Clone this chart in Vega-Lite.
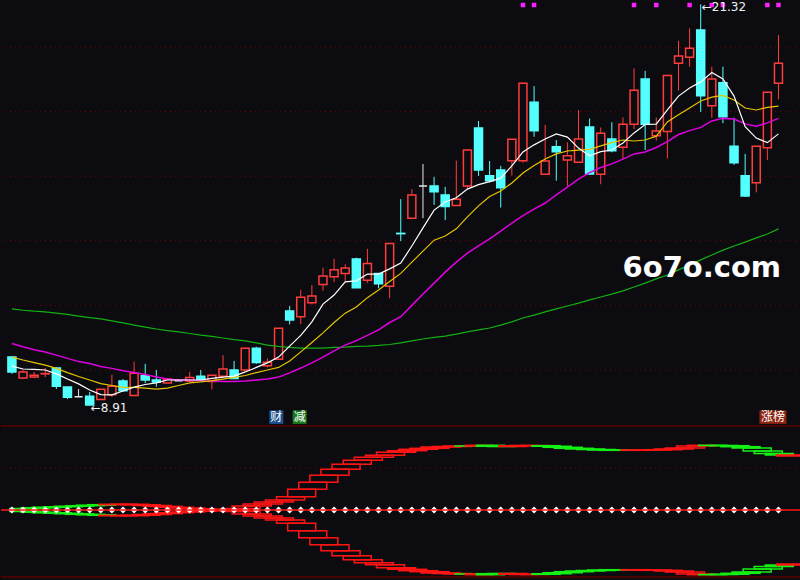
{
"$schema": "https://vega.github.io/schema/vega-lite/v6.json",
"background": "#0c0c10",
"padding": 0,
"spacing": 0,
"bounds": "flush",
"config": {"view": {"stroke": null}},
"resolve": {"scale": {"x": "independent", "y": "independent", "color": "independent", "fill": "independent", "stroke": "independent"}},
"datasets": {
"k": [
{"i":0,"o":10.40,"c":9.94,"h":10.43,"l":9.88,"t":"c","m5":10.12,"m10":10.40,"m20":10.82,"m60":11.89},
{"i":1,"o":9.75,"c":9.94,"h":10.00,"l":9.72,"t":"r","m5":10.03,"m10":10.31,"m20":10.72,"m60":11.85},
{"i":2,"o":9.78,"c":9.84,"h":9.94,"l":9.75,"t":"r","m5":10.02,"m10":10.23,"m20":10.63,"m60":11.82},
{"i":3,"o":9.88,"c":9.89,"h":10.06,"l":9.78,"t":"r","m5":10.00,"m10":10.15,"m20":10.56,"m60":11.80},
{"i":4,"o":10.06,"c":9.50,"h":10.08,"l":9.41,"t":"c","m5":9.88,"m10":10.05,"m20":10.46,"m60":11.76},
{"i":5,"o":9.47,"c":9.16,"h":9.47,"l":9.10,"t":"c","m5":9.72,"m10":9.92,"m20":10.36,"m60":11.72},
{"i":6,"o":9.17,"c":9.17,"h":9.41,"l":9.16,"t":"w","m5":9.57,"m10":9.80,"m20":10.26,"m60":11.67},
{"i":7,"o":9.19,"c":8.92,"h":9.32,"l":8.91,"t":"c","m5":9.38,"m10":9.69,"m20":10.20,"m60":11.62},
{"i":8,"o":9.09,"c":9.40,"h":9.41,"l":9.09,"t":"r","m5":9.24,"m10":9.58,"m20":10.11,"m60":11.58},
{"i":9,"o":9.23,"c":9.50,"h":9.85,"l":9.17,"t":"r","m5":9.23,"m10":9.52,"m20":10.05,"m60":11.52},
{"i":10,"o":9.66,"c":9.36,"h":9.72,"l":9.35,"t":"c","m5":9.35,"m10":9.46,"m20":9.98,"m60":11.46},
{"i":11,"o":9.21,"c":9.90,"h":10.26,"l":9.20,"t":"r","m5":9.47,"m10":9.46,"m20":9.92,"m60":11.39},
{"i":12,"o":9.82,"c":9.69,"h":10.19,"l":9.59,"t":"c","m5":9.55,"m10":9.44,"m20":9.86,"m60":11.33},
{"i":13,"o":9.69,"c":9.63,"h":10.00,"l":9.48,"t":"c","m5":9.60,"m10":9.41,"m20":9.78,"m60":11.27},
{"i":14,"o":9.60,"c":9.71,"h":9.75,"l":9.60,"t":"r","m5":9.69,"m10":9.44,"m20":9.72,"m60":11.22},
{"i":15,"o":9.67,"c":9.67,"h":9.72,"l":9.66,"t":"w","m5":9.69,"m10":9.52,"m20":9.69,"m60":11.18},
{"i":16,"o":9.66,"c":9.77,"h":9.94,"l":9.63,"t":"r","m5":9.69,"m10":9.60,"m20":9.69,"m60":11.13},
{"i":17,"o":9.81,"c":9.69,"h":10.00,"l":9.66,"t":"c","m5":9.69,"m10":9.63,"m20":9.67,"m60":11.08},
{"i":18,"o":9.64,"c":9.84,"h":9.85,"l":9.40,"t":"r","m5":9.74,"m10":9.67,"m20":9.66,"m60":11.04},
{"i":19,"o":9.81,"c":10.03,"h":10.46,"l":9.81,"t":"r","m5":9.78,"m10":9.72,"m20":9.64,"m60":10.99},
{"i":20,"o":10.00,"c":9.74,"h":10.28,"l":9.74,"t":"c","m5":9.81,"m10":9.77,"m20":9.64,"m60":10.94},
{"i":21,"o":10.00,"c":10.67,"h":10.68,"l":9.95,"t":"r","m5":9.94,"m10":9.83,"m20":9.66,"m60":10.90},
{"i":22,"o":10.67,"c":10.23,"h":10.72,"l":10.19,"t":"c","m5":10.08,"m10":9.92,"m20":9.69,"m60":10.84},
{"i":23,"o":10.13,"c":10.24,"h":10.36,"l":10.08,"t":"r","m5":10.22,"m10":10.00,"m20":9.72,"m60":10.77},
{"i":24,"o":10.33,"c":11.29,"h":11.30,"l":10.33,"t":"r","m5":10.40,"m10":10.08,"m20":9.78,"m60":10.73},
{"i":25,"o":11.83,"c":11.55,"h":11.98,"l":11.41,"t":"c","m5":10.74,"m10":10.28,"m20":9.91,"m60":10.70},
{"i":26,"o":11.65,"c":12.25,"h":12.48,"l":11.42,"t":"r","m5":11.07,"m10":10.56,"m20":10.06,"m60":10.68},
{"i":27,"o":12.08,"c":12.29,"h":12.63,"l":12.03,"t":"r","m5":11.49,"m10":10.85,"m20":10.22,"m60":10.68},
{"i":28,"o":12.65,"c":12.91,"h":13.17,"l":12.45,"t":"r","m5":12.04,"m10":11.15,"m20":10.40,"m60":10.68},
{"i":29,"o":12.89,"c":13.10,"h":13.44,"l":12.72,"t":"r","m5":12.32,"m10":11.47,"m20":10.59,"m60":10.70},
{"i":30,"o":12.99,"c":13.16,"h":13.27,"l":12.75,"t":"r","m5":12.73,"m10":11.76,"m20":10.77,"m60":10.71},
{"i":31,"o":13.44,"c":12.55,"h":13.48,"l":12.55,"t":"c","m5":12.76,"m10":11.95,"m20":10.91,"m60":10.73},
{"i":32,"o":12.78,"c":13.30,"h":13.75,"l":12.70,"t":"r","m5":12.97,"m10":12.24,"m20":11.07,"m60":10.74},
{"i":33,"o":12.99,"c":12.67,"h":13.00,"l":12.53,"t":"c","m5":12.97,"m10":12.48,"m20":11.24,"m60":10.76},
{"i":34,"o":12.59,"c":13.92,"h":13.93,"l":12.22,"t":"r","m5":13.13,"m10":12.74,"m20":11.47,"m60":10.79},
{"i":35,"o":14.23,"c":14.22,"h":15.29,"l":13.99,"t":"c","m5":13.31,"m10":12.99,"m20":11.65,"m60":10.84},
{"i":36,"o":14.70,"c":15.42,"h":15.60,"l":14.67,"t":"r","m5":13.84,"m10":13.34,"m20":12.00,"m60":10.90},
{"i":37,"o":15.70,"c":15.70,"h":16.38,"l":14.70,"t":"w","m5":14.40,"m10":13.68,"m20":12.35,"m60":10.96},
{"i":38,"o":15.70,"c":15.52,"h":15.98,"l":15.11,"t":"c","m5":14.95,"m10":14.02,"m20":12.69,"m60":11.01},
{"i":39,"o":15.42,"c":15.06,"h":15.67,"l":14.64,"t":"c","m5":15.20,"m10":14.15,"m20":13.03,"m60":11.05},
{"i":40,"o":15.09,"c":15.29,"h":16.48,"l":15.09,"t":"r","m5":15.33,"m10":14.37,"m20":13.34,"m60":11.11},
{"i":41,"o":15.70,"c":16.81,"h":16.81,"l":15.60,"t":"r","m5":15.60,"m10":14.74,"m20":13.62,"m60":11.18},
{"i":42,"o":17.49,"c":16.19,"h":17.71,"l":16.01,"t":"c","m5":15.74,"m10":15.08,"m20":13.84,"m60":11.24},
{"i":43,"o":16.01,"c":15.86,"h":16.47,"l":15.80,"t":"c","m5":15.83,"m10":15.37,"m20":14.06,"m60":11.30},
{"i":44,"o":16.19,"c":15.64,"h":16.32,"l":15.03,"t":"c","m5":15.94,"m10":15.54,"m20":14.30,"m60":11.39},
{"i":45,"o":16.48,"c":17.14,"h":17.15,"l":16.02,"t":"r","m5":16.32,"m10":15.79,"m20":14.55,"m60":11.49},
{"i":46,"o":16.48,"c":18.88,"h":18.89,"l":16.42,"t":"r","m5":16.75,"m10":16.10,"m20":14.78,"m60":11.61},
{"i":47,"o":18.29,"c":17.41,"h":18.79,"l":17.22,"t":"c","m5":16.97,"m10":16.33,"m20":14.98,"m60":11.70},
{"i":48,"o":16.06,"c":16.47,"h":17.59,"l":16.06,"t":"r","m5":17.15,"m10":16.53,"m20":15.17,"m60":11.80},
{"i":49,"o":16.91,"c":16.76,"h":17.12,"l":15.86,"t":"c","m5":17.31,"m10":16.69,"m20":15.42,"m60":11.89},
{"i":50,"o":16.50,"c":16.63,"h":17.05,"l":15.70,"t":"r","m5":17.21,"m10":16.78,"m20":15.66,"m60":11.98},
{"i":51,"o":16.43,"c":17.15,"h":18.05,"l":16.41,"t":"r","m5":16.87,"m10":16.81,"m20":15.91,"m60":12.07},
{"i":52,"o":17.52,"c":16.07,"h":17.79,"l":16.04,"t":"c","m5":16.63,"m10":16.83,"m20":16.11,"m60":12.17},
{"i":53,"o":16.06,"c":17.33,"h":17.51,"l":15.75,"t":"r","m5":16.76,"m10":16.94,"m20":16.27,"m60":12.26},
{"i":54,"o":17.15,"c":16.79,"h":17.67,"l":16.74,"t":"c","m5":16.81,"m10":17.04,"m20":16.38,"m60":12.35},
{"i":55,"o":16.90,"c":17.61,"h":17.82,"l":16.52,"t":"r","m5":17.03,"m10":17.12,"m20":16.53,"m60":12.45},
{"i":56,"o":17.61,"c":18.66,"h":19.34,"l":17.46,"t":"r","m5":17.34,"m10":17.09,"m20":16.69,"m60":12.57},
{"i":57,"o":19.01,"c":17.61,"h":19.26,"l":16.81,"t":"c","m5":17.60,"m10":17.12,"m20":16.75,"m60":12.69},
{"i":58,"o":17.25,"c":17.40,"h":17.82,"l":17.10,"t":"r","m5":17.61,"m10":17.24,"m20":16.89,"m60":12.82},
{"i":59,"o":17.38,"c":19.12,"h":19.13,"l":16.55,"t":"r","m5":18.05,"m10":17.68,"m20":17.07,"m60":12.94},
{"i":60,"o":19.50,"c":19.72,"h":20.19,"l":18.65,"t":"r","m5":18.48,"m10":17.90,"m20":17.29,"m60":13.10},
{"i":61,"o":19.68,"c":19.96,"h":20.58,"l":19.39,"t":"r","m5":18.73,"m10":18.11,"m20":17.41,"m60":13.25},
{"i":62,"o":20.53,"c":18.49,"h":21.32,"l":17.99,"t":"c","m5":18.92,"m10":18.33,"m20":17.51,"m60":13.41},
{"i":63,"o":18.18,"c":19.01,"h":19.39,"l":17.81,"t":"r","m5":19.21,"m10":18.45,"m20":17.71,"m60":13.56},
{"i":64,"o":18.89,"c":17.84,"h":19.39,"l":17.64,"t":"c","m5":19.01,"m10":18.50,"m20":17.79,"m60":13.71},
{"i":65,"o":16.93,"c":16.42,"h":17.81,"l":16.35,"t":"c","m5":18.48,"m10":18.36,"m20":17.77,"m60":13.84},
{"i":66,"o":16.01,"c":15.39,"h":16.69,"l":15.36,"t":"c","m5":17.53,"m10":18.11,"m20":17.62,"m60":13.96},
{"i":67,"o":15.80,"c":16.93,"h":16.93,"l":15.50,"t":"r","m5":17.18,"m10":18.05,"m20":17.55,"m60":14.09},
{"i":68,"o":16.88,"c":18.60,"h":18.60,"l":16.50,"t":"r","m5":17.04,"m10":18.13,"m20":17.65,"m60":14.21},
{"i":69,"o":18.88,"c":19.50,"h":20.37,"l":18.38,"t":"r","m5":17.31,"m10":18.17,"m20":17.79,"m60":14.37}
],
"ind": [
{"i":0,"v":1.5,"vp":1.0,"s":"g"},{"i":1,"v":2.2,"vp":1.5,"s":"g"},{"i":2,"v":2.8,"vp":2.2,"s":"g"},{"i":3,"v":3.3,"vp":2.8,"s":"g"},
{"i":4,"v":3.8,"vp":3.3,"s":"g"},{"i":5,"v":4.3,"vp":3.8,"s":"g"},{"i":6,"v":4.8,"vp":4.3,"s":"g"},{"i":7,"v":5.3,"vp":4.8,"s":"g"},
{"i":8,"v":5.7,"vp":5.3,"s":"r"},{"i":9,"v":5.7,"vp":5.7,"s":"r"},{"i":10,"v":5.2,"vp":5.7,"s":"r"},{"i":11,"v":4.5,"vp":5.2,"s":"r"},
{"i":12,"v":3.6,"vp":4.5,"s":"r"},{"i":13,"v":2.7,"vp":3.6,"s":"r"},{"i":14,"v":2.0,"vp":2.7,"s":"r"},{"i":15,"v":1.3,"vp":2.0,"s":"r"},
{"i":16,"v":0.8,"vp":1.3,"s":"r"},{"i":17,"v":0.5,"vp":0.8,"s":"r"},{"i":18,"v":0.5,"vp":0.5,"s":"r"},{"i":19,"v":1.5,"vp":0.5,"s":"r"},
{"i":20,"v":4,"vp":1.5,"s":"r"},{"i":21,"v":6,"vp":4,"s":"r"},{"i":22,"v":8,"vp":6,"s":"r"},{"i":23,"v":10,"vp":8,"s":"r"},
{"i":24,"v":13.3,"vp":10,"s":"r"},{"i":25,"v":20.7,"vp":13.3,"s":"r"},{"i":26,"v":27.7,"vp":20.7,"s":"r"},{"i":27,"v":34.7,"vp":27.7,"s":"r"},
{"i":28,"v":40.7,"vp":34.7,"s":"r"},{"i":29,"v":45.7,"vp":40.7,"s":"r"},{"i":30,"v":49.7,"vp":45.7,"s":"r"},{"i":31,"v":52.7,"vp":49.7,"s":"r"},
{"i":32,"v":54.7,"vp":52.7,"s":"r"},{"i":33,"v":57.7,"vp":54.7,"s":"r"},{"i":34,"v":59.3,"vp":57.7,"s":"r"},{"i":35,"v":60.7,"vp":59.3,"s":"r"},
{"i":36,"v":61.7,"vp":60.7,"s":"r"},{"i":37,"v":63,"vp":61.7,"s":"r"},{"i":38,"v":63.5,"vp":63,"s":"r"},{"i":39,"v":64,"vp":63.5,"s":"r"},
{"i":40,"v":64,"vp":64,"s":"g"},{"i":41,"v":64.7,"vp":64,"s":"r"},{"i":42,"v":63.7,"vp":64.7,"s":"g"},{"i":43,"v":63.5,"vp":63.7,"s":"g"},
{"i":44,"v":64.3,"vp":63.5,"s":"r"},{"i":45,"v":64.5,"vp":64.3,"s":"r"},{"i":46,"v":64.3,"vp":64.5,"s":"r"},{"i":47,"v":63.7,"vp":64.3,"s":"g"},
{"i":48,"v":62.7,"vp":63.7,"s":"g"},{"i":49,"v":61.7,"vp":62.7,"s":"g"},{"i":50,"v":61,"vp":61.7,"s":"g"},{"i":51,"v":60.5,"vp":61,"s":"g"},
{"i":52,"v":60,"vp":60.5,"s":"g"},{"i":53,"v":59.7,"vp":60,"s":"g"},{"i":54,"v":59.7,"vp":59.7,"s":"g"},{"i":55,"v":60,"vp":59.7,"s":"r"},
{"i":56,"v":60,"vp":60,"s":"r"},{"i":57,"v":60.3,"vp":60,"s":"r"},{"i":58,"v":61,"vp":60.3,"s":"r"},{"i":59,"v":62,"vp":61,"s":"r"},
{"i":60,"v":64,"vp":62,"s":"r"},{"i":61,"v":64.7,"vp":64,"s":"r"},{"i":62,"v":64.5,"vp":64.7,"s":"g"},{"i":63,"v":64.3,"vp":64.5,"s":"g"},
{"i":64,"v":63.3,"vp":64.3,"s":"g"},{"i":65,"v":62,"vp":63.3,"s":"g"},{"i":66,"v":59,"vp":62,"s":"g"},{"i":67,"v":56.5,"vp":59,"s":"g"},
{"i":68,"v":55,"vp":56.5,"s":"g"},{"i":69,"v":54,"vp":55,"s":"r"}
],
"grid": [{"p":10},{"p":12},{"p":14},{"p":16},{"p":18},{"p":20}],
"sig": [{"i":46},{"i":47},{"i":56},{"i":58},{"i":61},{"i":63},{"i":64},{"i":68},{"i":69}],
"tags": [{"i":23.8,"lab":"财"},{"i":25.9,"lab":"减"},{"i":68.5,"lab":"涨榜"}]
},
"vconcat": [
{
"width": 800, "height": 425,
"layer": [
{"data": {"name": "grid"}, "mark": {"type": "rule", "color": "#780000", "strokeDash": [1, 4], "strokeWidth": 1},
 "encoding": {"y": {"field": "p", "type": "quantitative", "scale": {"domain": [8.297, 21.455], "nice": false, "zero": false}, "axis": null}}},
{"data": {"name": "k"}, "mark": {"type": "rule", "strokeWidth": 1},
 "encoding": {
  "x": {"field": "i", "type": "quantitative", "scale": {"domain": [-0.533, 70.578], "nice": false, "zero": false}, "axis": null},
  "y": {"field": "l", "type": "quantitative", "scale": {"domain": [8.297, 21.455], "nice": false, "zero": false}, "axis": null},
  "y2": {"field": "h"},
  "color": {"field": "t", "type": "nominal", "scale": {"domain": ["r", "c", "w"], "range": ["#ff3c3c", "#54ffff", "#e8e8e8"]}, "legend": null}}},
{"data": {"name": "k"}, "mark": {"type": "bar", "size": 8, "strokeWidth": 1.5, "opacity": 1},
 "encoding": {
  "x": {"field": "i", "type": "quantitative", "scale": {"domain": [-0.533, 70.578], "nice": false, "zero": false}, "axis": null},
  "y": {"field": "o", "type": "quantitative", "scale": {"domain": [8.297, 21.455], "nice": false, "zero": false}, "axis": null},
  "y2": {"field": "c"},
  "fill": {"field": "t", "type": "nominal", "scale": {"domain": ["r", "c", "w"], "range": ["#0c0c10", "#54ffff", "#e8e8e8"]}, "legend": null},
  "stroke": {"field": "t", "type": "nominal", "scale": {"domain": ["r", "c", "w"], "range": ["#ff3c3c", "#54ffff", "#e8e8e8"]}, "legend": null}}},
{"data": {"name": "k"}, "mark": {"type": "line", "color": "#12b012", "strokeWidth": 1.2},
 "encoding": {
  "x": {"field": "i", "type": "quantitative", "scale": {"domain": [-0.533, 70.578], "nice": false, "zero": false}, "axis": null},
  "y": {"field": "m60", "type": "quantitative", "scale": {"domain": [8.297, 21.455], "nice": false, "zero": false}, "axis": null}}},
{"data": {"name": "k"}, "mark": {"type": "line", "color": "#e000e0", "strokeWidth": 1.5},
 "encoding": {
  "x": {"field": "i", "type": "quantitative", "scale": {"domain": [-0.533, 70.578], "nice": false, "zero": false}, "axis": null},
  "y": {"field": "m20", "type": "quantitative", "scale": {"domain": [8.297, 21.455], "nice": false, "zero": false}, "axis": null}}},
{"data": {"name": "k"}, "mark": {"type": "line", "color": "#e6c400", "strokeWidth": 1.2},
 "encoding": {
  "x": {"field": "i", "type": "quantitative", "scale": {"domain": [-0.533, 70.578], "nice": false, "zero": false}, "axis": null},
  "y": {"field": "m10", "type": "quantitative", "scale": {"domain": [8.297, 21.455], "nice": false, "zero": false}, "axis": null}}},
{"data": {"name": "k"}, "mark": {"type": "line", "color": "#ffffff", "strokeWidth": 1.2},
 "encoding": {
  "x": {"field": "i", "type": "quantitative", "scale": {"domain": [-0.533, 70.578], "nice": false, "zero": false}, "axis": null},
  "y": {"field": "m5", "type": "quantitative", "scale": {"domain": [8.297, 21.455], "nice": false, "zero": false}, "axis": null}}},
{"data": {"name": "sig"}, "mark": {"type": "square", "color": "#ff20ff", "size": 20, "filled": true, "opacity": 1},
 "encoding": {
  "x": {"field": "i", "type": "quantitative", "scale": {"domain": [-0.533, 70.578], "nice": false, "zero": false}, "axis": null},
  "y": {"datum": 21.30, "type": "quantitative", "scale": {"domain": [8.297, 21.455], "nice": false, "zero": false}, "axis": null}}},
{"data": {"values": [{"i": 7, "p": 8.91, "s": "←8.91"}, {"i": 62, "p": 21.32, "s": "←21.32"}]},
 "mark": {"type": "text", "align": "left", "baseline": "middle", "dx": 1, "dy": 3, "font": "DejaVu Sans", "fontSize": 12, "color": "#f0f0f0"},
 "encoding": {
  "x": {"field": "i", "type": "quantitative", "scale": {"domain": [-0.533, 70.578], "nice": false, "zero": false}, "axis": null},
  "y": {"field": "p", "type": "quantitative", "scale": {"domain": [8.297, 21.455], "nice": false, "zero": false}, "axis": null},
  "text": {"field": "s"}}},
{"data": {"name": "tags"}, "transform": [{"filter": "datum.lab == '财'"}],
 "mark": {"type": "bar", "size": 14, "opacity": 1, "color": "#1d4f8c"},
 "encoding": {
  "x": {"field": "i", "type": "quantitative", "scale": {"domain": [-0.533, 70.578], "nice": false, "zero": false}, "axis": null},
  "y": {"datum": 8.75, "type": "quantitative", "scale": {"domain": [8.297, 21.455], "nice": false, "zero": false}, "axis": null},
  "y2": {"datum": 8.33}}},
{"data": {"name": "tags"}, "transform": [{"filter": "datum.lab == '减'"}],
 "mark": {"type": "bar", "size": 14, "opacity": 1, "color": "#1c7a1c"},
 "encoding": {
  "x": {"field": "i", "type": "quantitative", "scale": {"domain": [-0.533, 70.578], "nice": false, "zero": false}, "axis": null},
  "y": {"datum": 8.75, "type": "quantitative", "scale": {"domain": [8.297, 21.455], "nice": false, "zero": false}, "axis": null},
  "y2": {"datum": 8.33}}},
{"data": {"name": "tags"}, "transform": [{"filter": "datum.lab == '涨榜'"}],
 "mark": {"type": "bar", "size": 27, "opacity": 1, "color": "#8c2410"},
 "encoding": {
  "x": {"field": "i", "type": "quantitative", "scale": {"domain": [-0.533, 70.578], "nice": false, "zero": false}, "axis": null},
  "y": {"datum": 8.75, "type": "quantitative", "scale": {"domain": [8.297, 21.455], "nice": false, "zero": false}, "axis": null},
  "y2": {"datum": 8.33}}},
{"data": {"name": "tags"}, "mark": {"type": "text", "align": "center", "baseline": "middle", "font": "Noto Sans CJK SC", "fontSize": 12, "color": "#ffffff"},
 "encoding": {
  "x": {"field": "i", "type": "quantitative", "scale": {"domain": [-0.533, 70.578], "nice": false, "zero": false}, "axis": null},
  "y": {"datum": 8.54, "type": "quantitative", "scale": {"domain": [8.297, 21.455], "nice": false, "zero": false}, "axis": null},
  "text": {"field": "lab"}}},
{"data": {"values": [{"w": "6o7o.com"}]}, "mark": {"type": "text", "align": "center", "baseline": "middle", "font": "DejaVu Sans", "fontWeight": "bold", "fontSize": 29, "color": "#ffffff"},
 "encoding": {
  "x": {"datum": 62.1, "type": "quantitative", "scale": {"domain": [-0.533, 70.578], "nice": false, "zero": false}, "axis": null},
  "y": {"datum": 13.16, "type": "quantitative", "scale": {"domain": [8.297, 21.455], "nice": false, "zero": false}, "axis": null},
  "text": {"field": "w"}}}
]
},
{
"width": 800, "height": 155,
"resolve": {"scale": {"y": "independent"}},
"layer": [
{"data": {"values": [{"g": 84}, {"g": -67}]}, "mark": {"type": "rule", "color": "#5a0000", "strokeWidth": 1.5},
 "encoding": {"y": {"field": "g", "type": "quantitative", "scale": {"domain": [-70, 85], "nice": false, "zero": false}, "axis": null}}},
{"data": {"values": [{"g": 42}]}, "mark": {"type": "rule", "color": "#780000", "strokeDash": [1, 4], "strokeWidth": 1},
 "encoding": {"y": {"field": "g", "type": "quantitative", "scale": {"domain": [-70, 85], "nice": false, "zero": false}, "axis": null}}},
{"data": {"name": "ind"}, "mark": {"type": "bar", "size": 28, "xOffset": 12, "fillOpacity": 0, "strokeWidth": 1.5, "clip": true},
 "encoding": {
  "x": {"field": "i", "type": "quantitative", "scale": {"domain": [-0.533, 70.578], "nice": false, "zero": false}, "axis": null},
  "y": {"field": "v", "type": "quantitative", "scale": {"domain": [-70, 85], "nice": false, "zero": false}, "axis": null},
  "y2": {"field": "vp"},
  "stroke": {"field": "s", "type": "nominal", "scale": {"domain": ["r", "g"], "range": ["#ff1414", "#14f014"]}, "legend": null}}},
{"data": {"name": "ind"}, "mark": {"type": "bar", "size": 28, "xOffset": 12, "fillOpacity": 0, "strokeWidth": 1.5, "clip": true},
 "encoding": {
  "x": {"field": "i", "type": "quantitative", "scale": {"domain": [-0.533, 70.578], "nice": false, "zero": false}, "axis": null},
  "y": {"field": "v", "type": "quantitative", "scale": {"domain": [-85, 70], "nice": false, "zero": false, "reverse": true}, "axis": null},
  "y2": {"field": "vp"},
  "stroke": {"field": "s", "type": "nominal", "scale": {"domain": ["r", "g"], "range": ["#ff1414", "#14f014"]}, "legend": null}}},
{"data": {"name": "ind"}, "mark": {"type": "point", "shape": "diamond", "size": 50, "filled": true, "color": "#ffffff", "opacity": 1},
 "encoding": {
  "x": {"field": "i", "type": "quantitative", "scale": {"domain": [-0.533, 70.578], "nice": false, "zero": false}, "axis": null},
  "y": {"datum": 0, "type": "quantitative", "scale": {"domain": [-70, 85], "nice": false, "zero": false}, "axis": null}}},
{"data": {"values": [{"g": 0}]}, "mark": {"type": "rule", "color": "#ff1414", "strokeWidth": 1.5},
 "encoding": {"y": {"field": "g", "type": "quantitative", "scale": {"domain": [-70, 85], "nice": false, "zero": false}, "axis": null}}}
]
}
]
}
